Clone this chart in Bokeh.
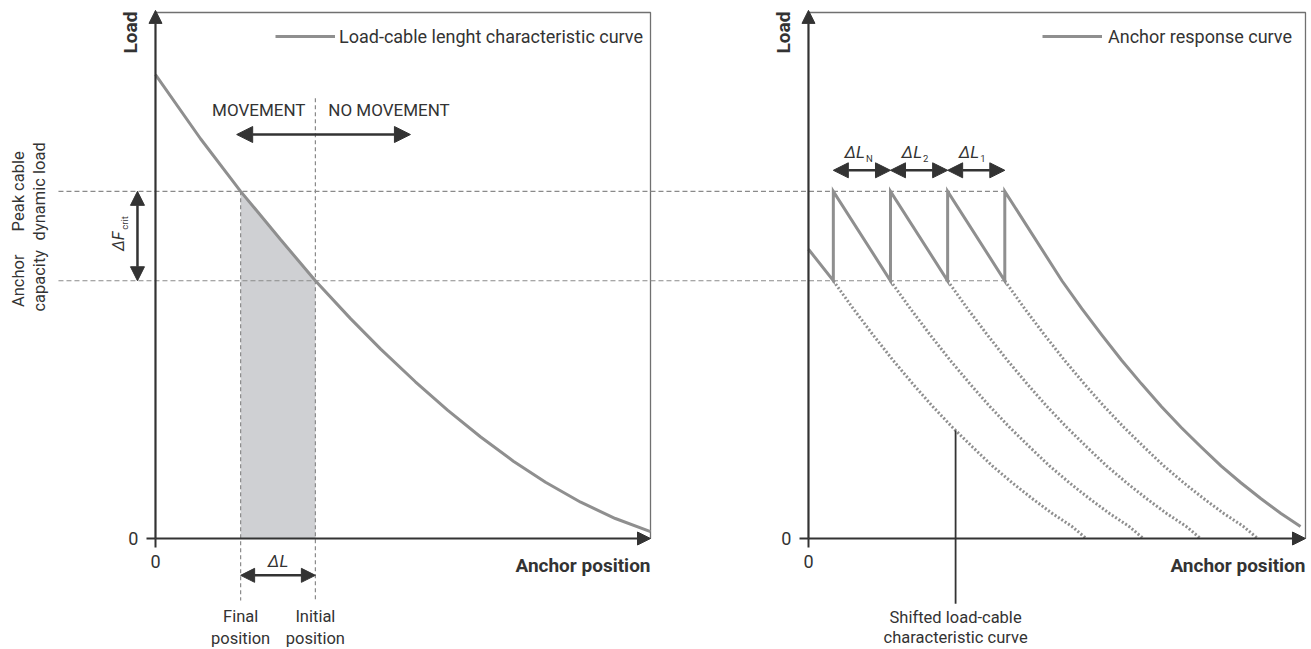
import numpy as np
from bokeh.plotting import figure
from bokeh.layouts import row
from bokeh.models import (Arrow, NormalHead, LinearAxis, FixedTicker, Range1d,
                          Legend, LegendItem)
from bokeh.core.properties import value
from bokeh.embed import file_html
from bokeh.resources import INLINE

# ---------------- data ----------------
# left panel: load-cable length characteristic curve (anchor position, load)
char_pos = [0.0, 9.1, 17.2, 25.3, 32.3, 39.4, 45.5, 52.5, 59.0, 65.7, 72.3, 78.8, 85.9, 92.9, 100.0]
char_load = [88.2, 76.0, 66.0, 56.8, 49.0, 41.8, 36.0, 29.8, 24.4, 19.3, 14.7, 10.7, 6.9, 3.8, 1.3]
peak_load = 66.0          # peak cable dynamic load
anchor_capacity = 49.0    # anchor capacity
final_position = 17.2
initial_position = 32.3

# right panel: shifted characteristic curve, offsets measured from its peak
base_offset = [0.0, 11.5, 15.5, 19.5, 23.5, 27.5, 31.5, 35.5, 39.5, 43.5, 47.5, 51.5, 55.5, 59.5, 62.4]
base_load = [66.0, 49.0, 43.7, 38.7, 33.9, 29.4, 25.1, 21.1, 17.4, 13.8, 10.6, 7.6, 4.8, 2.3, 0.0]
jump_positions = [5.0, 16.5, 28.0, 39.5]   # anchor positions of the load jumps
delta_L = 11.5
response_start_load = 55.0
delta_labels = ["N", "2", "1"]
leader_x = 29.6
axis_max = 100.0

FONT = "Roboto"
TXT = "#333333"
AX = "#333333"
CURVE = "#8f8f8f"
DASH = "#8a8a8a"

W1, W2, H = 730, 581, 649


def make_fig(width, xr):
    p = figure(width=width, height=H, x_range=Range1d(*xr), y_range=Range1d(-21.10, 102.28),
               output_backend="svg", toolbar_location=None, min_border=0,
               x_axis_location=None, y_axis_location=None)
    p.grid.visible = False
    p.outline_line_color = None
    p.background_fill_color = "white"
    p.border_fill_color = "white"
    # axes with a single 0 tick, placed at the data origin
    ya = LinearAxis(fixed_location=0, bounds=(0, axis_max), ticker=FixedTicker(ticks=[0]),
                    axis_line_color=None, major_tick_line_color=AX, major_tick_line_width=2,
                    major_tick_out=9, major_tick_in=0, minor_tick_line_color=None,
                    major_label_text_font=FONT, major_label_text_font_size="18px",
                    major_label_text_color=TXT, major_label_standoff=8)
    xa = LinearAxis(fixed_location=0, bounds=(0, axis_max), ticker=FixedTicker(ticks=[0]),
                    axis_line_color=None, major_tick_line_color=AX, major_tick_line_width=2,
                    major_tick_out=9, major_tick_in=0, minor_tick_line_color=None,
                    major_label_text_font=FONT, major_label_text_font_size="18px",
                    major_label_text_color=TXT, major_label_standoff=7)
    p.add_layout(ya, "left")
    p.add_layout(xa, "below")
    # axis arrows
    p.add_layout(Arrow(x_start=0, y_start=0, x_end=axis_max, y_end=0, line_color=AX, line_width=2.2,
                       end=NormalHead(size=13, fill_color=AX, line_color=AX, line_width=1)))
    p.add_layout(Arrow(x_start=0, y_start=0, x_end=0, y_end=axis_max + 0.4, line_color=AX, line_width=2.2,
                       end=NormalHead(size=13, fill_color=AX, line_color=AX, line_width=1)))
    # frame outline (top and right)
    p.line([0, axis_max, axis_max], [axis_max, axis_max, 0], line_color="#707070", line_width=1.3)
    return p


def txt(p, x, y, s, size, angle=0.0, align="center", baseline="middle", style="normal",
        xo=0, yo=0):
    p.text(x=[x], y=[y], text=[s], text_font=value(FONT), text_font_size=value(f"{size}px"),
           text_font_style=style, angle=angle, text_align=align, text_baseline=baseline,
           x_offset=xo, y_offset=yo, text_color=TXT)


def dbl_arrow(p, x0, y0, x1, y1, size=15):
    p.add_layout(Arrow(x_start=x0, y_start=y0, x_end=x1, y_end=y1, line_color=AX, line_width=2.5,
                       start=NormalHead(size=size, fill_color=AX, line_color=AX, line_width=1),
                       end=NormalHead(size=size, fill_color=AX, line_color=AX, line_width=1)))


# ---------------- left panel ----------------
left = make_fig(W1, (-31.31, 116.16))

# shaded area between final and initial position
sx = [x for x in char_pos if final_position <= x <= initial_position]
sy = [char_load[char_pos.index(x)] for x in sx]
left.varea(x=sx, y1=[0] * len(sx), y2=sy, fill_color="#cfd0d3")

# dashed reference lines
left.multi_line(xs=[[-19.6, 117], [-19.6, 117]], ys=[[peak_load] * 2, [anchor_capacity] * 2],
                line_color=DASH, line_width=1.2, line_dash="5 3")
left.multi_line(xs=[[final_position] * 2, [initial_position] * 2],
                ys=[[peak_load, -11.8], [83.7, -11.8]],
                line_color=DASH, line_width=1.2, line_dash="4 3")

curve_l = left.line(char_pos, char_load, line_color=CURVE, line_width=3)

left.add_layout(Legend(items=[LegendItem(label="Load-cable lenght characteristic curve",
                                         renderers=[curve_l])],
                       location=(275, 600), glyph_width=60, glyph_height=26, label_height=26,
                       label_standoff=4, padding=0, margin=0, spacing=0,
                       border_line_color=None, background_fill_alpha=0,
                       label_text_font=FONT, label_text_font_size="18px",
                       label_text_color=TXT))

# arrows
dbl_arrow(left, 16.4, 76.8, 51.5, 76.8, size=16)
dbl_arrow(left, -3.64, anchor_capacity, -3.64, peak_load, size=14)
dbl_arrow(left, final_position, -7.0, initial_position, -7.0, size=14)

# texts
txt(left, -5.05, 96.2, "Load", 19, angle=np.pi / 2, style="bold")
txt(left, axis_max, -5.13, "Anchor position", 19, align="right", style="bold")
txt(left, 30.3, 81.4, "MOVEMENT", 17, align="right")
txt(left, 34.9, 81.4, "NO MOVEMENT", 17, align="left")
txt(left, -27.7, peak_load, "Peak cable", 16.5, angle=np.pi / 2)
txt(left, -23.4, peak_load, "dynamic load", 16.5, angle=np.pi / 2)
txt(left, -27.7, anchor_capacity, "Anchor", 16.5, angle=np.pi / 2)
txt(left, -23.4, anchor_capacity, "capacity", 16.5, angle=np.pi / 2)
txt(left, -7.5, 56.5, "ΔF", 16, angle=np.pi / 2, style="italic")
txt(left, -6.3, 60.0, "crit", 9.5, angle=np.pi / 2)
txt(left, (final_position + initial_position) / 2, -4.2, "ΔL", 17, style="italic")
txt(left, final_position, -14.8, "Final", 16.5)
txt(left, final_position, -19.0, "position", 16.5)
txt(left, initial_position, -14.8, "Initial", 16.5)
txt(left, initial_position, -19.0, "position", 16.5)

# ---------------- right panel ----------------
right = make_fig(W2, (-15.69, 101.21))

last = jump_positions[-1]
right.multi_line(xs=[[-16, last], [-16, last]], ys=[[peak_load] * 2, [anchor_capacity] * 2],
                 line_color=DASH, line_width=1.2, line_dash="5 3")

# shifted (dotted) characteristic curves starting at each jump
for p in jump_positions:
    q = p - delta_L
    dx = [q + o for o in base_offset[1:]]
    right.line(dx, base_load[1:], line_color=CURVE, line_width=3, line_dash="2 2")

# anchor response (sawtooth then the final characteristic curve)
rx, ry = [0.0], [response_start_load]
for p in jump_positions:
    rx += [p, p]
    ry += [anchor_capacity, peak_load]
for o, l in zip(base_offset[1:], base_load[1:]):
    if last + o <= axis_max:
        rx.append(last + o)
        ry.append(l)
curve_r = right.line(rx, ry, line_color=CURVE, line_width=3, line_join="miter")

right.add_layout(Legend(items=[LegendItem(label="Anchor response curve", renderers=[curve_r])],
                        location=(312, 600), glyph_width=60, glyph_height=26, label_height=26,
                        label_standoff=6, padding=0, margin=0, spacing=0,
                        border_line_color=None, background_fill_alpha=0,
                        label_text_font=FONT, label_text_font_size="18px",
                        label_text_color=TXT))

# delta L arrows between jumps
for i, lab in enumerate(delta_labels):
    a, b = jump_positions[i], jump_positions[i + 1]
    dbl_arrow(right, a, 70.0, b, 70.0, size=15)
    mid = (a + b) / 2
    txt(right, mid, 73.4, "ΔL", 17, align="right", style="italic", xo=3)
    txt(right, mid, 72.3, lab, 9.5, align="left", xo=4)

# leader line to the first shifted curve
first_q = jump_positions[0] - delta_L
leader_top = float(np.interp(leader_x - first_q, base_offset, base_load))
right.line([leader_x, leader_x], [-12.4, leader_top], line_color=AX, line_width=1.8)
txt(right, leader_x, -15.0, "Shifted load-cable", 16.5)
txt(right, leader_x, -18.8, "characteristic curve", 16.5)

txt(right, -5.03, 96.2, "Load", 19, angle=np.pi / 2, style="bold")
txt(right, axis_max, -5.13, "Anchor position", 19, align="right", style="bold")

layout = row(left, right, spacing=0)
open("out.html", "w").write(file_html(layout, INLINE))
